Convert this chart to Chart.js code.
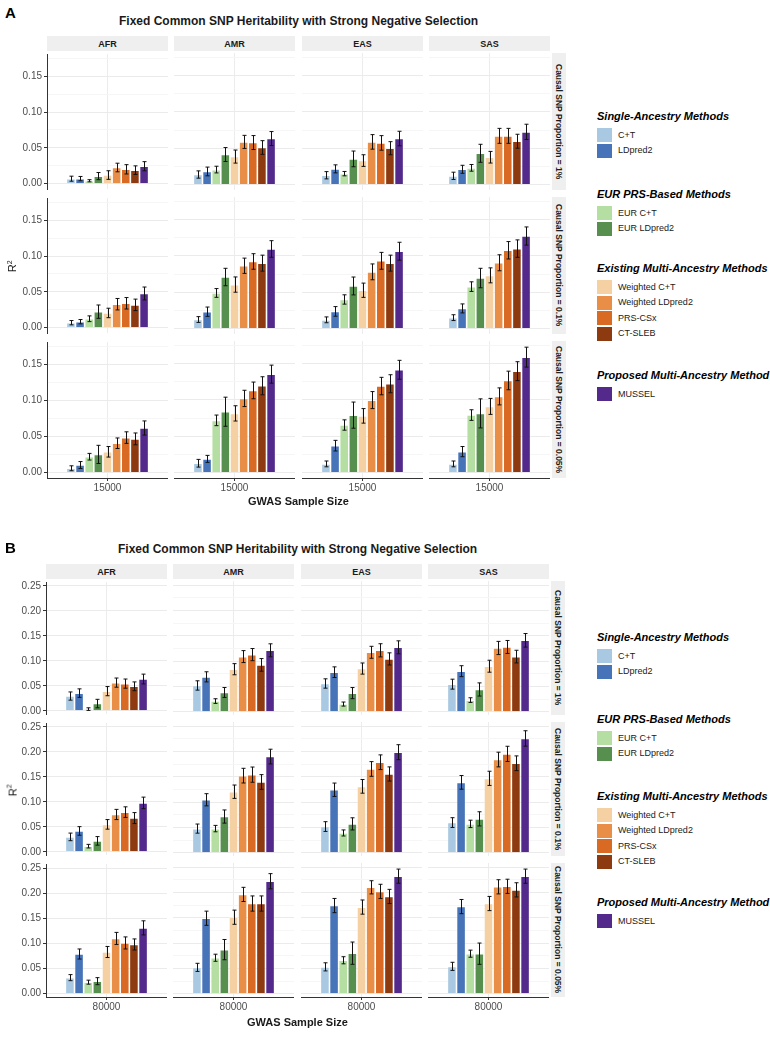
<!DOCTYPE html>
<html>
<head>
<meta charset="utf-8">
<script src="https://cdn.jsdelivr.net/npm/chart.js@4.4.0/dist/chart.umd.min.js"></script>
<style>
  body { margin: 0; background: #fff; font-family: "Liberation Sans", Arial, sans-serif; }
  #page { position: relative; width: 770px; height: 1037px; overflow: hidden; background: #fff; }
  .t { position: absolute; white-space: nowrap; color: #000; line-height: 1; }
  .strip { position: absolute; background: #efefef; font-weight: bold; font-size: 9px; color: #1a1a1a;
           display: flex; align-items: center; justify-content: center; white-space: nowrap; }
  .vstrip { writing-mode: vertical-rl; font-size: 8.5px; }
  .sw { position: absolute; width: 15px; height: 14px; }
  canvas { position: absolute; }
</style>
</head>
<body>
<div id="page"></div>
<script>
const methods = ['C+T', 'LDpred2', 'EUR C+T', 'EUR LDpred2', 'Weighted C+T', 'Weighted LDpred2', 'PRS-CSx', 'CT-SLEB', 'MUSSEL'];
const colors = ['#a9c9e2', '#4773b8', '#b5dea2', '#568f4e', '#f4d0a2', '#e98e47', '#d96a24', '#8d3a10', '#532a8c'];
const ancestries = ['AFR', 'AMR', 'EAS', 'SAS'];
const proportions = ['Causal SNP Proportion = 1%', 'Causal SNP Proportion = 0.1%', 'Causal SNP Proportion = 0.05%'];
const sizeA = ['15000'];
const sizeB = ['80000'];

// R2 values: one row per ancestry (AFR, AMR, EAS, SAS), columns follow methods
const a1 = [
  [0.0069, 0.007, 0.004, 0.0105, 0.012, 0.0225, 0.020, 0.0188, 0.0243],
  [0.0138, 0.018, 0.0206, 0.0413, 0.0385, 0.0587, 0.0578, 0.051, 0.0633],
  [0.0128, 0.0216, 0.015, 0.0353, 0.033, 0.0587, 0.0573, 0.050, 0.0633],
  [0.012, 0.021, 0.023, 0.043, 0.0376, 0.067, 0.067, 0.0596, 0.0725]];
const a1Err = [
  [0.0035, 0.003, 0.0015, 0.005, 0.006, 0.006, 0.0065, 0.006, 0.0064],
  [0.005, 0.006, 0.0046, 0.0096, 0.009, 0.009, 0.0096, 0.0094, 0.0096],
  [0.005, 0.0055, 0.003, 0.0108, 0.008, 0.010, 0.010, 0.009, 0.010],
  [0.005, 0.0055, 0.0046, 0.0124, 0.008, 0.0103, 0.0103, 0.0096, 0.0105]];
const a2 = [
  [0.0069, 0.0083, 0.0124, 0.0223, 0.0205, 0.0327, 0.034, 0.0318, 0.0477],
  [0.0124, 0.0232, 0.049, 0.0709, 0.0605, 0.0864, 0.0923, 0.090, 0.1095],
  [0.012, 0.0236, 0.040, 0.0586, 0.0527, 0.078, 0.0932, 0.090, 0.1064],
  [0.015, 0.0277, 0.0577, 0.0695, 0.0732, 0.0905, 0.1077, 0.110, 0.1273]];
const a2Err = [
  [0.003, 0.003, 0.004, 0.0093, 0.0066, 0.008, 0.008, 0.008, 0.009],
  [0.004, 0.0064, 0.006, 0.012, 0.0105, 0.0105, 0.0107, 0.011, 0.0114],
  [0.004, 0.0066, 0.0064, 0.0123, 0.0098, 0.0109, 0.0116, 0.011, 0.0123],
  [0.004, 0.0062, 0.0066, 0.0134, 0.0103, 0.011, 0.012, 0.012, 0.0125]];
const a3 = [
  [0.006, 0.0105, 0.022, 0.0252, 0.0288, 0.0407, 0.0485, 0.0467, 0.0618],
  [0.0128, 0.0188, 0.0718, 0.0837, 0.0814, 0.102, 0.113, 0.1194, 0.1354],
  [0.0119, 0.037, 0.0654, 0.079, 0.078, 0.0997, 0.119, 0.1222, 0.1414],
  [0.0119, 0.0288, 0.0791, 0.0814, 0.091, 0.1048, 0.1267, 0.1395, 0.1588]];
const a3Err = [
  [0.0034, 0.0048, 0.0046, 0.0126, 0.0073, 0.0073, 0.008, 0.0082, 0.0098],
  [0.0053, 0.0048, 0.0073, 0.020, 0.0105, 0.0112, 0.0115, 0.0124, 0.0124],
  [0.004, 0.0073, 0.0071, 0.018, 0.010, 0.0117, 0.012, 0.0124, 0.013],
  [0.004, 0.007, 0.0073, 0.020, 0.011, 0.0117, 0.0128, 0.013, 0.0137]];

const b1 = [
  [0.0295, 0.0354, 0.0033, 0.0144, 0.0393, 0.0564, 0.0544, 0.049, 0.0636],
  [0.0518, 0.0688, 0.021, 0.038, 0.0839, 0.1088, 0.1127, 0.0924, 0.1212],
  [0.0557, 0.078, 0.0151, 0.0367, 0.0852, 0.1173, 0.1212, 0.1042, 0.1271],
  [0.0544, 0.080, 0.0229, 0.0439, 0.0898, 0.1258, 0.1278, 0.1088, 0.1409]];
const b1Err = [
  [0.0082, 0.0085, 0.0026, 0.0085, 0.0092, 0.0092, 0.0092, 0.0088, 0.0098],
  [0.0092, 0.010, 0.0046, 0.0098, 0.011, 0.0118, 0.012, 0.0125, 0.0128],
  [0.0092, 0.0105, 0.004, 0.011, 0.011, 0.0118, 0.013, 0.012, 0.0128],
  [0.0098, 0.0108, 0.0046, 0.013, 0.0118, 0.013, 0.0128, 0.0125, 0.0134]];
const b2 = [
  [0.0298, 0.0417, 0.0112, 0.0218, 0.0549, 0.0747, 0.0794, 0.0675, 0.0979],
  [0.0476, 0.1045, 0.0476, 0.0714, 0.1204, 0.1521, 0.1541, 0.1396, 0.1898],
  [0.0516, 0.1243, 0.039, 0.0569, 0.131, 0.1653, 0.1786, 0.1554, 0.1984],
  [0.0595, 0.1389, 0.0569, 0.0668, 0.1468, 0.1839, 0.1951, 0.1766, 0.2255]];
const b2Err = [
  [0.0076, 0.0086, 0.0036, 0.0086, 0.0096, 0.0102, 0.0106, 0.011, 0.0116],
  [0.009, 0.012, 0.0063, 0.013, 0.0132, 0.0145, 0.015, 0.0145, 0.0145],
  [0.0096, 0.0132, 0.006, 0.012, 0.0135, 0.0145, 0.0145, 0.014, 0.0148],
  [0.0096, 0.0135, 0.0073, 0.014, 0.014, 0.0145, 0.015, 0.0145, 0.0152]];
const b3 = [
  [0.032, 0.079, 0.023, 0.025, 0.083, 0.110, 0.101, 0.098, 0.131],
  [0.052, 0.149, 0.071, 0.087, 0.151, 0.196, 0.178, 0.178, 0.222],
  [0.053, 0.174, 0.066, 0.080, 0.171, 0.210, 0.202, 0.192, 0.232],
  [0.054, 0.172, 0.079, 0.079, 0.178, 0.211, 0.212, 0.205, 0.232]];
const b3Err = [
  [0.006, 0.010, 0.004, 0.007, 0.011, 0.012, 0.012, 0.011, 0.014],
  [0.008, 0.014, 0.007, 0.020, 0.014, 0.014, 0.015, 0.015, 0.015],
  [0.008, 0.014, 0.007, 0.022, 0.014, 0.013, 0.014, 0.014, 0.014],
  [0.008, 0.014, 0.007, 0.021, 0.014, 0.014, 0.014, 0.014, 0.014]];

const legendGroups = [
  { title: 'Single-Ancestry Methods', items: [0, 1] },
  { title: 'EUR PRS-Based Methods', items: [2, 3] },
  { title: 'Existing Multi-Ancestry Methods', items: [4, 5, 6, 7] },
  { title: 'Proposed Multi-Ancestry Method', items: [8] }
];

const FONT = '"Liberation Sans", Arial, sans-serif';
const page = document.getElementById('page');

function txt(s, x, y, css, anchor) {
  const d = document.createElement('div');
  d.className = 't';
  d.textContent = s;
  d.style.cssText += css;
  page.appendChild(d);
  const w = d.offsetWidth, h = d.offsetHeight;
  d.style.left = (anchor === 'l' ? x : x - w / 2) + 'px';
  d.style.top = (y - h / 2) + 'px';
  return d;
}

// error bars drawn through the chart's own y scale
const errorBars = {
  id: 'errorBars',
  afterDatasetsDraw(chart) {
    const ctx = chart.ctx, ys = chart.scales.y;
    ctx.save();
    ctx.strokeStyle = '#111';
    ctx.lineWidth = 1;
    chart.data.datasets.forEach((ds, i) => {
      const bar = chart.getDatasetMeta(i).data[0];
      const v = ds.data[0], e = ds.err;
      const x = Math.round(bar.x) + 0.5;
      const t = ys.getPixelForValue(v + e), b = ys.getPixelForValue(Math.max(v - e, 0));
      ctx.beginPath();
      ctx.moveTo(x, t); ctx.lineTo(x, b);
      ctx.moveTo(x - 2, t); ctx.lineTo(x + 2, t);
      ctx.moveTo(x - 2, b); ctx.lineTo(x + 2, b);
      ctx.stroke();
    });
    ctx.restore();
  }
};

const isMajor = v => Math.abs(Math.round(v / 0.05) * 0.05 - v) < 1e-6;

function drawFigure(fig) {
  const PAD = 7;
  txt(fig.letter, 5, fig.letterY, 'font-weight:bold;font-size:15px;', 'l');
  txt('Fixed Common SNP Heritability with Strong Negative Selection', (fig.cols[0] + fig.cols[3] + fig.w) / 2, fig.titleY,
      'font-weight:bold;font-size:12px;color:#1a1a1a;');

  ancestries.forEach((a, c) => {
    const s = document.createElement('div');
    s.className = 'strip';
    s.textContent = a;
    s.style.left = fig.cols[c] + 'px'; s.style.top = fig.stripY + 'px';
    s.style.width = fig.w + 'px'; s.style.height = '15px';
    page.appendChild(s);
  });

  proportions.forEach((p, r) => {
    const s = document.createElement('div');
    s.className = 'strip vstrip';
    s.textContent = p;
    s.style.left = (fig.cols[3] + fig.w + 2) + 'px'; s.style.top = fig.rows[r] + 'px';
    s.style.width = '14px'; s.style.height = fig.h + 'px';
    page.appendChild(s);
  });

  fig.values.forEach((rowVals, r) => {
    ancestries.forEach((a, c) => {
      const x0 = fig.cols[c], y0 = fig.rows[r];
      const left = c === 0 ? 0 : x0;
      const yW = c === 0 ? x0 : 0;
      const xH = r === 2 ? 16 : 0;
      const cv = document.createElement('canvas');
      cv.width = x0 + fig.w - left;
      cv.height = fig.h + xH + 2 * PAD;
      cv.style.left = left + 'px';
      cv.style.top = (y0 - PAD) + 'px';
      page.appendChild(cv);

      new Chart(cv, {
        type: 'bar',
        data: {
          labels: fig.sizes,
          datasets: methods.map((m, i) => ({
            label: m,
            data: [rowVals[c][i]],
            err: fig.errs[r][c][i],
            backgroundColor: colors[i],
            borderColor: 'rgba(255,255,255,0.45)',
            borderWidth: 0.8,
            categoryPercentage: 0.68,
            barPercentage: 1.0
          }))
        },
        options: {
          responsive: false,
          animation: false,
          devicePixelRatio: 1,
          layout: { padding: { top: PAD, bottom: PAD, left: 0, right: 0 } },
          plugins: { legend: { display: false }, tooltip: { enabled: false } },
          scales: {
            x: {
              offset: true,
              grid: { display: true, offset: false, color: '#ececec', drawTicks: r === 2, tickLength: 3, tickColor: '#333' },
              border: { display: r === 2, color: '#333', width: 1 },
              ticks: { display: r === 2, color: '#4d4d4d', padding: 1, maxRotation: 0, font: { size: 10, family: FONT } },
              afterFit: s => { s.height = xH; }
            },
            y: {
              min: fig.yMin, max: fig.yMax,
              ticks: {
                display: c === 0, stepSize: 0.025, includeBounds: false, padding: 2,
                color: '#4d4d4d', font: { size: 10, family: FONT },
                callback: v => isMajor(v) ? v.toFixed(2) : ''
              },
              grid: {
                color: ctx => isMajor(ctx.tick.value) ? '#ebebeb' : '#f6f6f6',
                drawTicks: c === 0, tickLength: 3,
                tickColor: ctx => isMajor(ctx.tick.value) ? '#333' : 'rgba(0,0,0,0)'
              },
              border: { display: c === 0, color: '#333', width: 1 },
              afterFit: s => { s.width = yW; }
            }
          }
        },
        plugins: [errorBars]
      });
    });
  });

  const mid = (fig.rows[0] + fig.rows[2] + fig.h) / 2;
  const r2 = txt('R', 12, mid, 'font-size:11px;color:#1a1a1a;transform:rotate(-90deg);', 'l');
  r2.innerHTML = 'R<sup style="font-size:7px">2</sup>';
  r2.style.left = '6px';
  txt('GWAS Sample Size', (fig.cols[0] + fig.cols[3] + fig.w) / 2, fig.xTitleY, 'font-weight:bold;font-size:11px;color:#1a1a1a;');

  legendGroups.forEach((g, gi) => {
    const hy = fig.legendY[gi];
    txt(g.title, 597, hy, 'font-weight:bold;font-style:italic;font-size:11px;', 'l');
    g.items.forEach((m, k) => {
      const cy = hy + 19 + k * 15.5;
      const sw = document.createElement('div');
      sw.className = 'sw';
      sw.style.background = colors[m];
      sw.style.left = '597px';
      sw.style.top = (cy - 7) + 'px';
      page.appendChild(sw);
      txt(methods[m], 618, cy, 'font-size:9px;color:#1a1a1a;', 'l');
    });
  });
}

drawFigure({
  letter: 'A', letterY: 12, titleY: 21, stripY: 36, xTitleY: 501,
  cols: [47, 174, 302, 429], w: 121,
  rows: [53, 197, 341], h: 137,
  yMin: -0.0075, yMax: 0.181,
  sizes: sizeA,
  values: [a1, a2, a3], errs: [a1Err, a2Err, a3Err],
  legendY: [116, 194, 268, 375]
});

drawFigure({
  letter: 'B', letterY: 547, titleY: 549, stripY: 564, xTitleY: 1022,
  cols: [46, 173, 301, 428], w: 121,
  rows: [581, 722, 863], h: 134,
  yMin: -0.0065, yMax: 0.258,
  sizes: sizeB,
  values: [b1, b2, b3], errs: [b1Err, b2Err, b3Err],
  legendY: [637, 719, 796, 902]
});
</script>
</body>
</html>
